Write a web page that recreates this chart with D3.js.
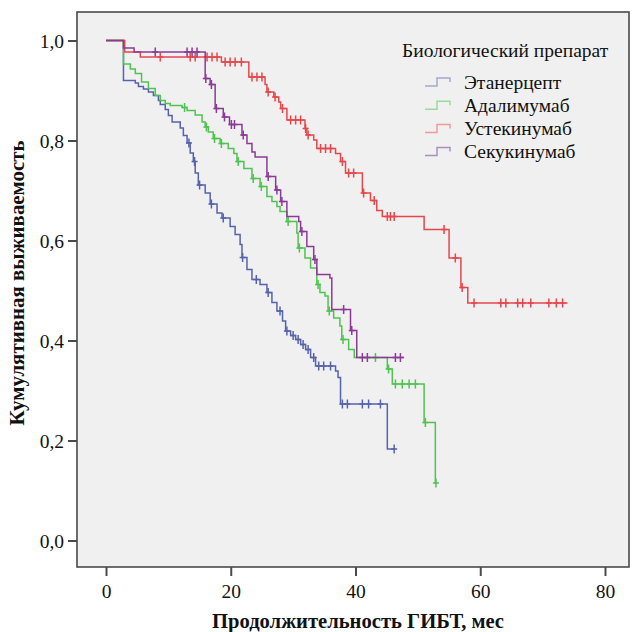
<!DOCTYPE html>
<html>
<head>
<meta charset="utf-8">
<script src="https://cdn.jsdelivr.net/npm/d3@7"></script>
<style>
  body { margin: 0; background: #fff; }
  svg { display: block; }
  text { font-family: "Liberation Serif", "Times New Roman", serif; fill: #111; }
</style>
</head>
<body>
<div id="chart"></div>
<script>
// ступени кривых: [месяц, выживаемость]
var etanerEvents = [[0,1],[2.8,0.92],[4.7,0.915],[5.2,0.908],[6.0,0.903],[6.8,0.897],[7.6,0.89],[8.4,0.88],
    [8.7,0.872],[9.5,0.862],[10.0,0.85],[10.6,0.837],[11.9,0.825],[12.4,0.81],[13.0,0.795],[13.5,0.775],
    [14.0,0.758],[14.3,0.735],[14.8,0.711],[15.9,0.695],[16.7,0.673],[17.8,0.655],[18.6,0.645],[19.9,0.628],
    [20.7,0.612],[21.5,0.592],[21.8,0.566],[22.6,0.542],[23.4,0.522],[24.7,0.512],[25.8,0.496],[26.6,0.476],
    [27.4,0.459],[28.3,0.439],[28.8,0.419],[29.6,0.41],[30.4,0.402],[31.2,0.392],[32.0,0.382],[32.8,0.366],
    [33.6,0.349],[36.8,0.339],[37.2,0.326],[37.6,0.273],[45.1,0.183],[46.4,0.183]];
var etanerCensor = [13.3,14.2,15.0,16.9,18.8,21.9,24.1,26.0,27.9,29.0,30.0,30.8,31.6,32.4,33.3,
    34.1,34.9,36.0,37.9,38.7,41.1,42.1,44.0,46.2];

var adalimEvents = [[0,1],[2.8,0.953],[3.9,0.943],[4.7,0.934],[5.7,0.917],[6.8,0.904],[7.9,0.89],[8.7,0.88],
    [9.5,0.874],[10.3,0.87],[12.2,0.866],[13.0,0.86],[14.3,0.851],[15.4,0.837],[15.9,0.827],[16.4,0.817],
    [17.2,0.804],[18.3,0.794],[19.6,0.784],[20.5,0.774],[21.0,0.758],[22.1,0.744],[23.4,0.724],[24.7,0.708],
    [25.8,0.688],[26.6,0.678],[27.4,0.668],[27.9,0.658],[29.0,0.638],[30.6,0.615],[30.8,0.585],[31.9,0.565],
    [32.8,0.545],[33.8,0.512],[34.3,0.496],[35.1,0.489],[35.6,0.459],[36.5,0.445],[37.5,0.429],[37.8,0.402],
    [38.9,0.382],[39.8,0.366],[45.1,0.343],[45.9,0.313],[51.0,0.236],[52.8,0.115],[53.0,0.115]];
var adalimCensor = [12.6,16.1,17.4,18.5,21.2,23.6,24.9,29.2,31.0,34.0,35.8,38.0,43.2,45.3,
    46.4,47.5,48.6,49.6,51.2,52.9];

var ustekEvents = [[0,1],[3.0,0.977],[5.5,0.967],[18.5,0.957],[22.9,0.927],[25.5,0.912],[25.8,0.897],
    [26.9,0.887],[27.7,0.877],[28.0,0.864],[29.0,0.841],[31.9,0.824],[32.2,0.811],[33.3,0.801],[33.8,0.784],
    [36.8,0.774],[37.6,0.758],[38.4,0.735],[41.1,0.695],[42.4,0.68],[43.4,0.66],[44.3,0.648],[51.0,0.622],
    [55.0,0.565],[56.9,0.506],[58.0,0.475],[74.0,0.475]];
var ustekCensor = [8.7,13.5,14.3,16.2,17.0,17.8,19.1,19.9,20.7,21.7,23.4,24.2,25.0,26.0,27.1,28.3,
    29.6,30.4,31.2,32.0,32.4,34.4,35.2,36.0,37.9,38.9,39.7,41.3,43.0,45.1,45.6,46.2,54.2,56.0,57.1,
    59.0,63.3,64.1,66.0,66.8,68.1,71.0,72.2,73.2];

var sekukEvents = [[0,1],[2.8,0.985],[4.5,0.977],[15.9,0.924],[16.7,0.912],[17.5,0.864],[18.8,0.847],
    [19.8,0.832],[21.8,0.811],[22.6,0.794],[23.4,0.777],[23.9,0.767],[25.8,0.728],[27.2,0.701],[28.0,0.678],
    [29.0,0.648],[30.9,0.638],[31.2,0.618],[32.2,0.588],[33.3,0.562],[33.8,0.532],[35.9,0.525],[36.2,0.462],
    [39.2,0.42],[40.2,0.366],[47.8,0.366]];
var sekukCensor = [7.9,13.0,13.8,14.6,16.0,16.9,17.7,19.0,20.1,20.6,22.0,26.0,27.4,28.2,31.4,33.5,
    38.1,39.4,41.1,41.9,46.4,47.2];

var groupNames = ["Этанерцепт", "Адалимумаб", "Устекинумаб", "Секукинумаб"];
var lineColors = ["#5563ad", "#4fc34f", "#e6474c", "#8a3b95"];
var legendColors = ["#a3a8cf", "#9ad99a", "#ee9a9a", "#ad8fbd"];
var xTicks = [0, 20, 40, 60, 80];
var yTicks = [0, 0.2, 0.4, 0.6, 0.8, 1.0];

var groups = [
    {name: groupNames[0], ev: etanerEvents, cens: etanerCensor},
    {name: groupNames[1], ev: adalimEvents, cens: adalimCensor},
    {name: groupNames[2], ev: ustekEvents, cens: ustekCensor},
    {name: groupNames[3], ev: sekukEvents, cens: sekukCensor}
];

var width = 632, height = 632;
var box = {left: 77, right: 629, top: 12, bottom: 567};

var x = d3.scaleLinear().domain([0, 80]).range([106, 605]);
var y = d3.scaleLinear().domain([0, 1]).range([540.5, 40.5]);

function survAt(ev, t){
    var s = ev[0][1];
    ev.forEach(function(d){ if(d[0] <= t) s = d[1]; });
    return s;
}

function commaFmt(v){
    return d3.format(".1f")(v).replace(".", ",");
}

var svg = d3.select("#chart").append("svg")
    .attr("width", width)
    .attr("height", height);

svg.append("rect")
    .attr("x", box.left).attr("y", box.top)
    .attr("width", box.right - box.left).attr("height", box.bottom - box.top)
    .style("fill", "#f0f0f0")
    .style("stroke", "#4a4a4a")
    .style("stroke-width", 1.6);

// оси
var yAxis = d3.axisLeft(y).tickValues(yTicks).tickSize(9).tickSizeOuter(0).tickFormat(commaFmt);
var gy = svg.append("g").attr("transform", "translate(" + box.left + ",0)").call(yAxis);
var xAxis = d3.axisBottom(x).tickValues(xTicks).tickSize(9).tickSizeOuter(0).tickFormat(d3.format("d"));
var gx = svg.append("g").attr("transform", "translate(0," + box.bottom + ")").call(xAxis);

[gx, gy].forEach(function(g){
    g.attr("font-family", null).attr("font-size", null);
    g.select(".domain").remove();
    g.selectAll(".tick line").style("stroke", "#4a4a4a").style("stroke-width", 2);
    g.selectAll(".tick text")
        .style("font-family", "'Liberation Serif', serif")
        .style("font-size", "19.5px")
        .style("fill", "#111");
});
gy.selectAll(".tick text").attr("x", -13).attr("dy", "0.34em");
gx.selectAll(".tick text").attr("y", 17);

svg.append("text")
    .attr("x", 358).attr("y", 628)
    .attr("text-anchor", "middle")
    .attr("textLength", 292)
    .attr("lengthAdjust", "spacingAndGlyphs")
    .style("font-size", "21px")
    .style("font-weight", "bold")
    .text("Продолжительность ГИБТ, мес");

svg.append("text")
    .attr("transform", "translate(24,283) rotate(-90)")
    .attr("text-anchor", "middle")
    .attr("textLength", 285)
    .attr("lengthAdjust", "spacingAndGlyphs")
    .style("font-size", "21px")
    .style("font-weight", "bold")
    .text("Кумулятивная выживаемость");

// кривые Каплана-Мейера
var line = d3.line()
    .x(function(d){ return x(d[0]); })
    .y(function(d){ return y(d[1]); })
    .curve(d3.curveStepAfter);

var plot = svg.append("g");

groups.forEach(function(g, i){
    plot.append("path")
        .attr("d", line(g.ev))
        .style("fill", "none")
        .style("stroke", lineColors[i])
        .style("stroke-width", 1.5);

    plot.selectAll(".cens" + i)
        .data(g.cens)
        .enter().append("path")
        .attr("class", "cens" + i)
        .attr("d", function(t){
            var cx = x(t), cy = y(survAt(g.ev, t));
            return "M" + (cx - 3) + "," + cy + "H" + (cx + 3) + "M" + cx + "," + (cy - 4.5) + "V" + (cy + 4.5);
        })
        .style("fill", "none")
        .style("stroke", lineColors[i])
        .style("stroke-width", 1.5);
});

// легенда
var legend = svg.append("g");
legend.append("text")
    .attr("x", 402).attr("y", 57)
    .style("font-size", "19.5px")
    .text("Биологический препарат");

var item = legend.selectAll(".leg")
    .data(groupNames)
    .enter().append("g")
    .attr("class", "leg")
    .attr("transform", function(d, i){ return "translate(0," + (82 + i * 23.2) + ")"; });

item.append("path")
    .attr("d", "M425,4H437V-4H450V0")
    .style("fill", "none")
    .style("stroke", function(d, i){ return legendColors[i]; })
    .style("stroke-width", 1.5);

item.append("text")
    .attr("x", 464).attr("y", 6.5)
    .style("font-size", "19.5px")
    .text(function(d){ return d; });
</script>
</body>
</html>
